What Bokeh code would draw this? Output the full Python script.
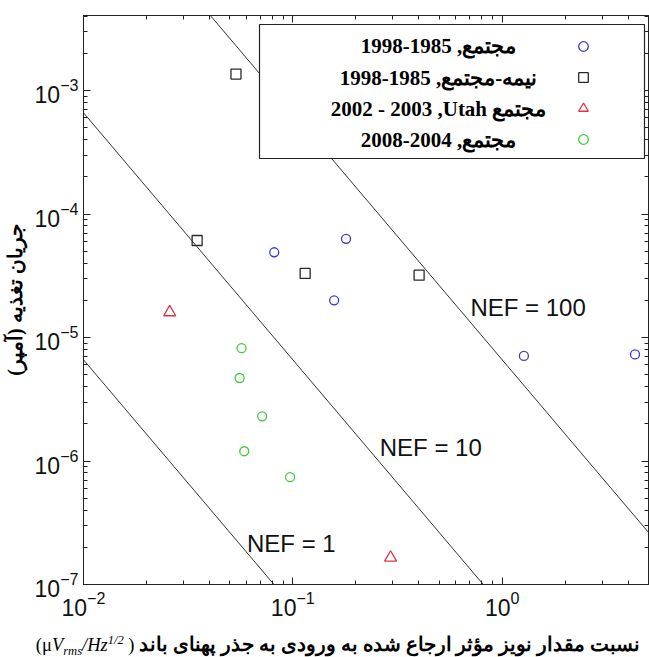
import numpy as np
from bokeh.embed import file_html
from bokeh.layouts import column
from bokeh.models import (BoxAnnotation, CustomJSTickFormatter, Div, Label, Legend,
                          LegendItem, LogAxis, LogTicker, Range1d)
from bokeh.plotting import figure
from bokeh.resources import INLINE

# --- measured designs: input-referred noise (uVrms/sqrt(Hz)) vs supply current (A)
mixed_8598_x = [0.0815, 0.1795, 0.1575, 1.27, 4.31]
mixed_8598_y = [4.9e-5, 6.3e-5, 2.0e-5, 7.1e-6, 7.3e-6]

semi_8598_x = [0.0535, 0.0349, 0.1145, 0.401]
semi_8598_y = [1.36e-3, 6.1e-5, 3.3e-5, 3.2e-5]

utah_x = [0.0258, 0.293]
utah_y = [1.6e-5, 1.65e-7]

mixed_0408_x = [0.0569, 0.0557, 0.0714, 0.0586, 0.097]
mixed_0408_y = [8.2e-6, 4.7e-6, 2.3e-6, 1.2e-6, 7.4e-7]

RLE, PDF, RLM = "\u202b", "\u202c", "\u200f"
legend_texts = [
    RLE + "مجتمع, 1985-1998" + PDF,
    RLE + "نیمه-مجتمع, 1985-1998" + PDF,
    RLE + "مجتمع Utah," + RLM + " 2003 - 2002" + PDF,
    RLE + "مجتمع, 2004-2008" + PDF,
]
y_title = RLE + "جریان تغذیه (آمپر)" + PDF
x_title = "نسبت مقدار نویز مؤثر ارجاع شده به ورودی به جذر پهنای باند"

# constant NEF contours: I = K * NEF^2 / v^2
nef_levels = [1, 10, 100]
nef_k = 6.6e-10
nef_labels = ["NEF = 1", "NEF = 10", "NEF = 100"]
nef_label_x = [0.0604, 0.26, 0.705]
nef_label_y = [2.15e-7, 1.29e-6, 1.75e-5]

x_lo, x_hi = 1e-2, 5.0
y_lo, y_hi = 1e-7, 4.05e-3

INK = "#222222"

p = figure(width=649, height=627, x_axis_type="log", y_axis_type="log",
           x_range=Range1d(x_lo, x_hi), y_range=Range1d(y_lo, y_hi),
           output_backend="svg", toolbar_location=None,
           min_border_left=83, min_border_right=1,
           min_border_top=15, min_border_bottom=43)
p.grid.visible = False
p.outline_line_color = INK
p.outline_line_width = 1
p.background_fill_color = "white"
p.border_fill_color = "white"

for ax in (p.xaxis[0], p.yaxis[0]):
    ax.axis_line_color = INK
    ax.major_tick_line_color = INK
    ax.minor_tick_line_color = INK
    ax.major_tick_in = 7
    ax.major_tick_out = 0
    ax.minor_tick_in = 4
    ax.minor_tick_out = 0
    ax.major_label_text_font = "Liberation Sans"
    ax.major_label_text_font_size = "23px"
    ax.major_label_text_color = "#111111"
p.xaxis.major_label_standoff = 6
p.yaxis.major_label_standoff = 5

p.yaxis.axis_label = y_title
p.yaxis.axis_label_text_font = "Liberation Serif"
p.yaxis.axis_label_text_font_style = "bold"
p.yaxis.axis_label_text_font_size = "20px"
p.yaxis.axis_label_text_color = "black"
p.yaxis.axis_label_standoff = 6

# box ticks on the top and right edges
for side in ("above", "right"):
    extra = LogAxis(ticker=LogTicker(num_minor_ticks=10),
                    formatter=CustomJSTickFormatter(code="return ''"),
                    major_label_text_font_size="0px", major_label_standoff=0,
                    axis_line_color=INK, major_tick_line_color=INK,
                    minor_tick_line_color=INK,
                    major_tick_in=7, major_tick_out=0,
                    minor_tick_in=4, minor_tick_out=0)
    p.add_layout(extra, side)

# NEF contour lines
line_x = np.array([x_lo, x_hi])
for nef in nef_levels:
    p.line(line_x, nef_k * nef ** 2 / line_x ** 2, line_color="#333333", line_width=1)

for txt, lx, ly in zip(nef_labels, nef_label_x, nef_label_y):
    p.add_layout(Label(x=lx, y=ly, text=txt, text_font="Liberation Sans",
                       text_font_size="24px", text_color="#111111",
                       text_baseline="alphabetic"))

r_mixed = p.scatter(mixed_8598_x, mixed_8598_y, marker="circle", size=9,
                    fill_color=None, line_color="#3a3ad2", line_width=1.3)
r_semi = p.scatter(semi_8598_x, semi_8598_y, marker="square", size=10,
                   fill_color=None, line_color="#2a2a2a", line_width=1.3)
r_utah = p.scatter(utah_x, utah_y, marker="triangle", size=12,
                   fill_color=None, line_color="#e23344", line_width=1.3)
r_new = p.scatter(mixed_0408_x, mixed_0408_y, marker="circle", size=9,
                  fill_color=None, line_color="#3ccb3c", line_width=1.3)

# legend: white box, labels centred, markers on the right side
p.add_layout(BoxAnnotation(left=176, right=561, top=560, bottom=426,
                           left_units="screen", right_units="screen",
                           top_units="screen", bottom_units="screen",
                           fill_color="white", fill_alpha=1.0,
                           line_color=INK, line_width=1.2, line_alpha=1.0))

legend = Legend(items=[LegendItem(label=" ", renderers=[r]) for r in
                       (r_mixed, r_semi, r_utah, r_new)],
                location=(488, 433), orientation="vertical",
                glyph_width=24, glyph_height=24, label_height=24,
                label_width=0, label_standoff=0, spacing=7, padding=0,
                margin=0, border_line_alpha=0, background_fill_alpha=0,
                label_text_font_size="1px")
p.add_layout(legend)

for txt, sy in zip(legend_texts, [539, 507, 476, 445]):
    p.add_layout(Label(x=355, y=sy, x_units="screen", y_units="screen",
                       text=txt, text_align="center", text_baseline="middle",
                       text_font="Liberation Serif", text_font_style="bold",
                       text_font_size="21px", text_color="black"))

# x-axis title: Persian caption followed by the unit with sub/superscripts
small = "font-size:12.5px;position:relative;"
unit_html = ('<bdi dir="ltr" style="font-weight:normal;font-size:18.5px">'
             '(\u03bc<i>V<span style="' + small + 'top:4px">rms</span>/Hz'
             '<span style="' + small + 'top:-7px">1/2</span></i> )</bdi>')
title_html = ('<div dir="rtl" style="width:649px;height:30px;box-sizing:border-box;'
              'padding-right:9px;padding-top:6px;text-align:right;white-space:nowrap;'
              'line-height:24px;font-family:\'Liberation Serif\',serif;'
              'font-weight:bold;font-size:19.5px;color:black;overflow:visible;">'
              + x_title + ' ' + unit_html + '</div>')
x_caption = Div(text=title_html, width=649, height=30, margin=0)

layout = column(p, x_caption, spacing=0)
open("out.html", "w").write(file_html(layout, INLINE))
